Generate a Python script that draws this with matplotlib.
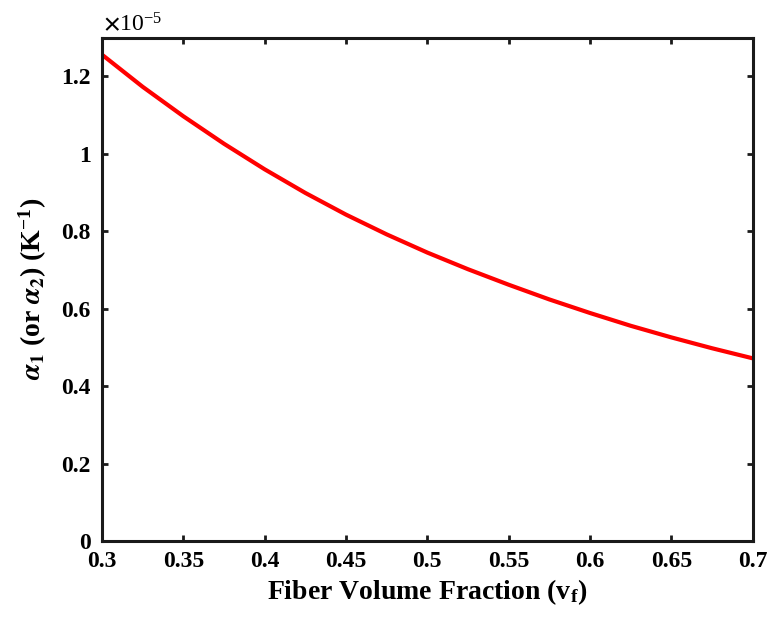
import matplotlib
matplotlib.use("Agg")
import matplotlib.pyplot as plt
from matplotlib.ticker import FuncFormatter, MultipleLocator

plt.rcParams["font.family"] = ["Liberation Serif", "DejaVu Serif"]
plt.rcParams["font.weight"] = "bold"
plt.rcParams["mathtext.fontset"] = "stix"

# thermal expansion coefficient vs fiber volume fraction
vf = [0.300, 0.325, 0.350, 0.375, 0.400, 0.425, 0.450, 0.475, 0.500,
      0.525, 0.550, 0.575, 0.600, 0.625, 0.650, 0.675, 0.700]
alpha_e5 = [1.256, 1.173, 1.097, 1.026, 0.960, 0.899, 0.843, 0.792, 0.745,
            0.702, 0.662, 0.624, 0.589, 0.556, 0.526, 0.498, 0.472]
alpha = [a * 1e-5 for a in alpha_e5]

fig = plt.figure(figsize=(7.7, 6.17), dpi=100)
ax = fig.add_axes([0.1325, 0.123, 0.845, 0.816])

ax.plot(vf, alpha, color="#ff0000", lw=3.0, solid_joinstyle="round")

ax.set_xlim(0.3, 0.7)
ax.set_ylim(0, 1.3e-5)
ax.xaxis.set_major_locator(MultipleLocator(0.05))
ax.yaxis.set_major_locator(MultipleLocator(0.2e-5))
ax.xaxis.set_major_formatter(FuncFormatter(lambda v, p: f"{v:g}"))
ax.yaxis.set_major_formatter(FuncFormatter(lambda v, p: f"{round(v / 1e-5, 3):g}"))

for s in ax.spines.values():
    s.set_linewidth(2.2)
    s.set_color("#1a1a1a")
ax.tick_params(direction="in", length=4, width=2, top=True, right=True,
               labelsize=17, color="#1a1a1a")
ax.tick_params(axis="x", pad=7)
ax.tick_params(axis="y", pad=8)

ax.text(0.002, 1.004, r"$\times\mathregular{10^{-5}}$", transform=ax.transAxes,
        fontsize=17, fontweight="normal", ha="left", va="bottom")

ax.set_xlabel(r"Fiber Volume Fraction (v$\mathregular{_f}$)", fontsize=20,
              fontweight="bold", labelpad=4)
ax.set_ylabel(r"$\alpha_1$ (or $\alpha_2$) (K$\mathregular{^{-1}}$)", fontsize=20,
              fontweight="bold", labelpad=9)

fig.savefig("out.png", dpi=100)
